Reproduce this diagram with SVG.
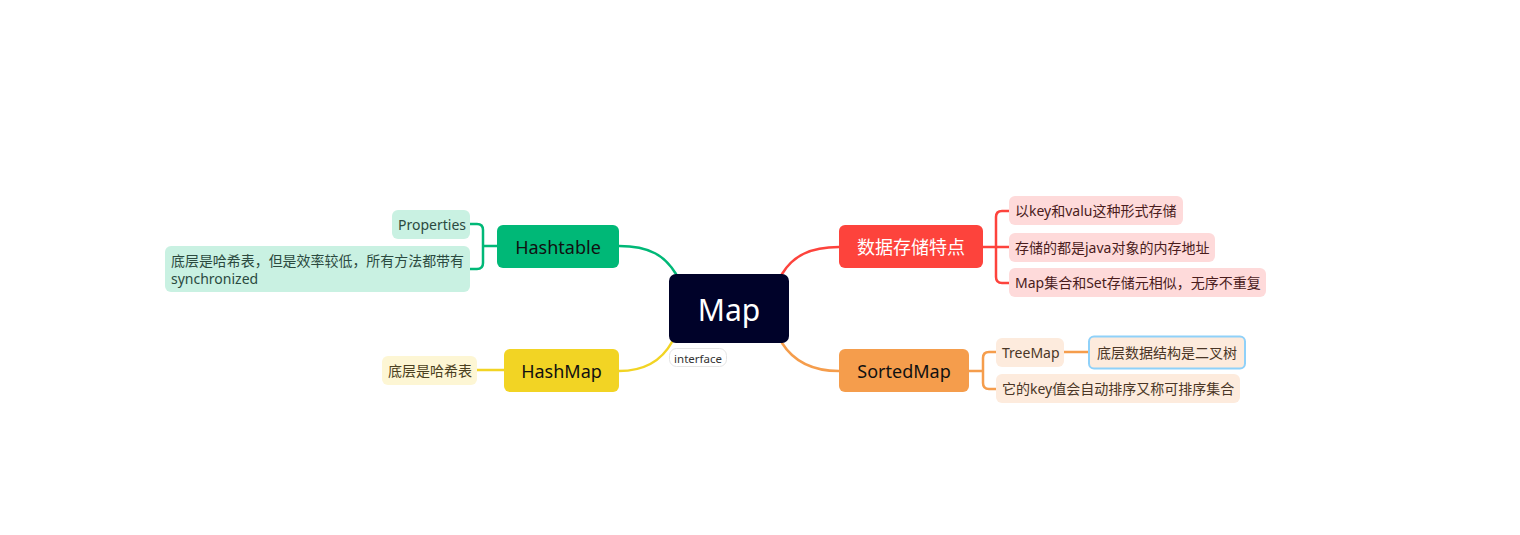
<svg xmlns="http://www.w3.org/2000/svg" width="1520" height="535" viewBox="0 0 1520 535">
<style>
text{font-family:"Noto Sans","Noto Sans CJK SC",sans-serif;}
.main{font-size:18px;text-anchor:middle;dominant-baseline:central;}
.sub{font-size:14px;dominant-baseline:central;}
.ln{fill:none;stroke-width:2.5;stroke-linecap:round;}
</style>
<rect width="1520" height="535" fill="#ffffff"/>
<g id="connectors">
<path class="ln" stroke="#00b877" d="M619,246 C650,246 665,256 676,274"/>
<path class="ln" stroke="#f2d424" d="M619,371 C645,371 662,360 672,342"/>
<path class="ln" stroke="#fd433c" d="M839,247 C810,247 793,256 782,274"/>
<path class="ln" stroke="#f59d4c" d="M839,371 C812,371 794,362 782,343"/>
<path class="ln" stroke="#00b877" d="M497,246 H483 M470,224 H477 Q483,224 483,230 V263 Q483,269 477,269 H470"/>
<path class="ln" stroke="#f2d424" d="M477,370 H504"/>
<path class="ln" stroke="#fd433c" d="M983,247 H1009 M1009,211 H1002 Q996,211 996,217 V277 Q996,283 1002,283 H1009"/>
<path class="ln" stroke="#f59d4c" d="M969,371 H983 M996,352 H989 Q983,352 983,358 V383 Q983,389 989,389 H996"/>
<path class="ln" stroke="#f59d4c" d="M1064,352 H1088"/>
</g>
<g id="map">
<rect x="669" y="274" width="120" height="69" rx="7" fill="#000229"/>
<text x="729" y="309" style="font-size:30px;text-anchor:middle;dominant-baseline:central" fill="#ffffff">Map</text>
</g>
<g id="interface">
<rect x="669.5" y="348.5" width="57" height="18" rx="7" fill="#ffffff" stroke="#e4e4e4"/>
<text x="698" y="358" style="font-size:11.5px;text-anchor:middle;dominant-baseline:central" fill="#333333">interface</text>
</g>
<g id="hashtable">
<rect x="497" y="225" width="122" height="43" rx="6" fill="#00b877"/>
<text class="main" x="558" y="246.5" fill="#111111">Hashtable</text>
</g>
<g id="properties">
<rect x="392" y="210" width="78" height="29" rx="6" fill="#c9f1e2"/>
<text class="sub" x="398" y="224.5" fill="#2b4a3f">Properties</text>
</g>
<g id="hashtable-desc">
<rect x="165" y="246" width="305" height="46" rx="6" fill="#c9f1e2"/>
<text class="sub" x="171" y="260.5" fill="#2b4a3f" textLength="293" lengthAdjust="spacingAndGlyphs">底层是哈希表，但是效率较低，所有方法都带有</text>
<text class="sub" x="171" y="278.5" fill="#2b4a3f">synchronized</text>
</g>
<g id="hashmap">
<rect x="504" y="349" width="115" height="43" rx="6" fill="#f2d424"/>
<text class="main" x="561.5" y="370.5" fill="#111111">HashMap</text>
</g>
<g id="hashmap-desc">
<rect x="382" y="356" width="95" height="29" rx="6" fill="#fdf6d4"/>
<text class="sub" x="388" y="370.5" fill="#4a4020">底层是哈希表</text>
</g>
<g id="features">
<rect x="839" y="225" width="144" height="43" rx="6" fill="#fd433c"/>
<text class="main" x="911" y="246.5" fill="#ffffff">数据存储特点</text>
</g>
<g id="f1">
<rect x="1009" y="196" width="174" height="29" rx="6" fill="#fedada"/>
<text class="sub" x="1015" y="210.5" fill="#4a1c1c">以key和valu这种形式存储</text>
</g>
<g id="f2">
<rect x="1009" y="233" width="206" height="29" rx="6" fill="#fedada"/>
<text class="sub" x="1015" y="247.5" fill="#4a1c1c">存储的都是java对象的内存地址</text>
</g>
<g id="f3">
<rect x="1009" y="268" width="257" height="29" rx="6" fill="#fedada"/>
<text class="sub" x="1015" y="282.5" fill="#4a1c1c">Map集合和Set存储元相似，无序不重复</text>
</g>
<g id="sortedmap">
<rect x="839" y="349" width="130" height="43" rx="6" fill="#f59d4c"/>
<text class="main" x="904" y="370.5" fill="#111111">SortedMap</text>
</g>
<g id="treemap">
<rect x="996" y="338" width="68" height="29" rx="6" fill="#fdebdd"/>
<text class="sub" x="1002" y="352.5" fill="#4a3626">TreeMap</text>
</g>
<g id="treemap-desc">
<rect x="1089" y="336.5" width="156" height="32" rx="5" fill="#fdebdd" stroke="#8fd1f9" stroke-width="2"/>
<text class="sub" x="1097" y="352.5" fill="#4a3626">底层数据结构是二叉树</text>
</g>
<g id="sorted-desc">
<rect x="996" y="374" width="244" height="29" rx="6" fill="#fdebdd"/>
<text class="sub" x="1002" y="388.5" fill="#4a3626">它的key值会自动排序又称可排序集合</text>
</g>
</svg>
